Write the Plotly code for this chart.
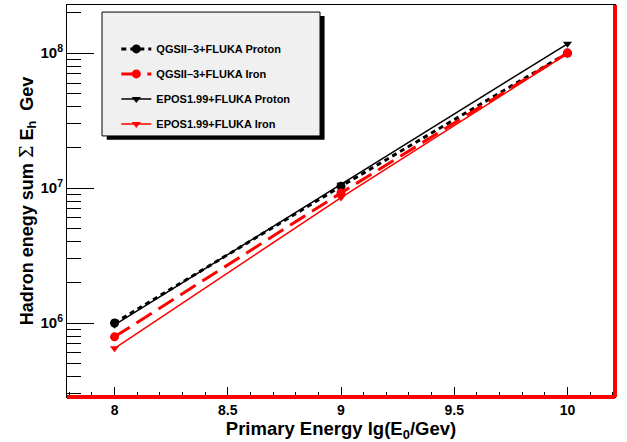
import plotly.graph_objects as go

energies = [8, 9, 10]
qgs_proton = [1.0e6, 1.03e7, 1.0e8]
qgs_iron = [7.9e5, 9.2e6, 1.0e8]
epos_proton = [9.7e5, 1.06e7, 1.17e8]
epos_iron = [6.5e5, 8.5e6, 9.9e7]

names = ["QGSII\u20133+FLUKA Proton", "QGSII\u20133+FLUKA Iron",
         "EPOS1.99+FLUKA Proton", "EPOS1.99+FLUKA Iron"]

y_major = [1e6, 1e7, 1e8]
y_major_text = ["10<sup>6</sup>", "10<sup>7</sup>", "10<sup>8</sup>"]
x_major = [8, 8.5, 9, 9.5, 10]
x_major_text = ["8", "8.5", "9", "9.5", "10"]

FONT = "Liberation Sans"

fig = go.Figure()
styles = [
    (qgs_proton, "black", 3, "5px,4px", "circle", 9),
    (qgs_iron, "red", 3, "18px,8px", "circle", 9),
    (epos_proton, "black", 1.5, "solid", "triangle-down", 8),
    (epos_iron, "red", 1.5, "solid", "triangle-down", 8),
]
for i, (vals, col, w, dash, sym, ms) in enumerate(styles):
    fig.add_trace(go.Scatter(
        x=energies, y=vals, name=names[i], mode="lines+markers",
        line=dict(color=col, width=w, dash=dash),
        marker=dict(symbol=sym, size=ms, color=col),
        legendgroup=f"g{i}",
    ))

minor_y = [m * 10 ** e for e in range(5, 9) for m in range(2, 10)]

fig.update_layout(
    width=627, height=442,
    margin=dict(l=67, r=12, t=5, b=45, autoexpand=False),
    paper_bgcolor="white", plot_bgcolor="white",
    font=dict(family=FONT, color="black"),
    showlegend=True,
    legend=dict(
        x=0.09, y=0.925, xanchor="left", yanchor="top",
        bgcolor="rgba(0,0,0,0)", borderwidth=0,
        font=dict(family=FONT, size=11, weight="bold"),
        traceorder="grouped", tracegroupgap=6,
    ),
    xaxis=dict(
        range=[7.79, 10.21], showgrid=False, zeroline=False, automargin=False,
        tickvals=x_major, ticktext=x_major_text,
        ticks="inside", ticklen=10, tickcolor="black", tickwidth=1,
        minor=dict(dtick=0.1, ticks="inside", ticklen=5, tickcolor="black", showgrid=False),
        showline=True, linecolor="black", linewidth=1, mirror=True,
        tickfont=dict(family=FONT, size=14, weight="bold"),
        title=dict(text="Primary Energy lg(E<sub>0</sub>/Gev)",
                   font=dict(family=FONT, size=18.5, weight="bold"), standoff=1),
    ),
    yaxis=dict(
        type="log", range=[5.452, 8.356], showgrid=False, zeroline=False, automargin=False,
        tickvals=y_major, ticktext=y_major_text,
        ticks="inside", ticklen=27, tickcolor="black", tickwidth=1,
        minor=dict(tickvals=minor_y, ticks="inside", ticklen=14, tickcolor="black", showgrid=False),
        showline=True, linecolor="black", linewidth=1, mirror=True,
        tickfont=dict(family=FONT, size=15, weight="bold"),
        title=dict(text="Hadron enegy sum <span style=\"font-family:DejaVu Serif;font-weight:normal\">\u03a3</span> E<sub>h</sub>  Gev",
                   font=dict(family=FONT, size=18, weight="bold"), standoff=2),
    ),
)

# legend box with shadow
fig.add_shape(type="rect", xref="paper", yref="paper",
              x0=0.0725, x1=0.4700, y0=0.656, y1=0.972,
              fillcolor="black", line=dict(width=0), layer="below")
fig.add_shape(type="rect", xref="paper", yref="paper",
              x0=0.0639, x1=0.4617, y0=0.666, y1=0.982,
              fillcolor="#f0f0f0", line=dict(color="black", width=1), layer="below")

# red frame edges (bottom and right)
fig.add_shape(type="line", xref="paper", yref="paper", x0=0, x1=1, y0=0, y1=0,
              line=dict(color="red", width=4))
fig.add_shape(type="line", xref="paper", yref="paper", x0=1, x1=1, y0=0, y1=1,
              line=dict(color="red", width=4))

fig.write_html("out.html", config={"displayModeBar": False},
               post_script="document.body.style.margin='0px';")
